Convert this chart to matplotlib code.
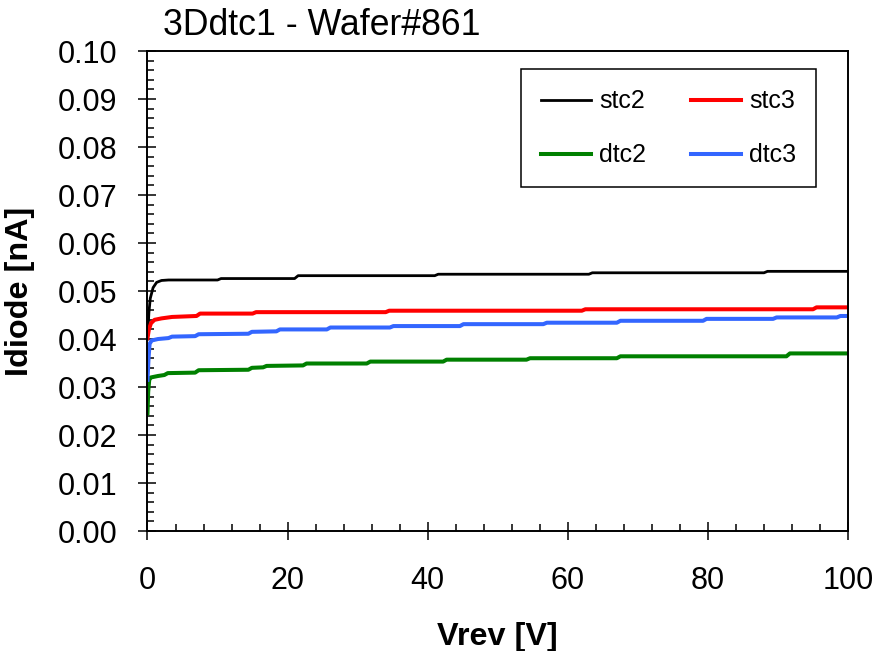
import matplotlib
matplotlib.use('Agg')
import matplotlib.pyplot as plt
from matplotlib.ticker import MultipleLocator, FormatStrFormatter


# Diode current vs reverse bias, one trace per test structure
v_stc2 = [0, 0.2, 0.4, 0.8, 1.3, 2.0, 3.0, 10.0, 10.5, 21.0, 21.5, 41.0, 41.5,
          63.0, 63.5, 88.0, 88.5, 100]
i_stc2 = [0.0400, 0.0455, 0.0485, 0.0507, 0.0518, 0.0522, 0.0523, 0.0523, 0.0526,
          0.0526, 0.0532, 0.0532, 0.0535, 0.0535, 0.0538, 0.0538, 0.0541, 0.0541]

v_stc3 = [0, 0.2, 0.5, 1.0, 2.0, 3.5, 7.0, 7.5, 15.0, 15.5, 34.0, 34.5,
          62.0, 62.5, 95.0, 95.5, 100]
i_stc3 = [0.0402, 0.0420, 0.0433, 0.0440, 0.0443, 0.0446, 0.0448, 0.0453, 0.0453,
          0.0456, 0.0456, 0.0459, 0.0459, 0.0462, 0.0462, 0.0466, 0.0466]

v_dtc2 = [0, 0.1, 0.25, 0.5, 1.5, 2.4, 2.9, 6.8, 7.3, 14.4, 14.9, 16.5, 17.0,
          22.2, 22.7, 31.3, 31.8, 42.2, 42.7, 54.1, 54.6, 67.0, 67.5, 91.2, 91.7, 100]
i_dtc2 = [0.0245, 0.0290, 0.0315, 0.0320, 0.0323, 0.0325, 0.0329, 0.0330, 0.0335,
          0.0336, 0.0340, 0.0341, 0.0344, 0.0345, 0.0349, 0.0349, 0.0353, 0.0353,
          0.0357, 0.0357, 0.0360, 0.0360, 0.0364, 0.0364, 0.0370, 0.0370]

v_dtc3 = [0, 0.15, 0.3, 0.6, 1.5, 3.0, 3.5, 6.8, 7.3, 14.4, 14.9, 18.4, 18.9,
          25.6, 26.1, 34.6, 35.1, 44.6, 45.1, 56.5, 57.0, 67.0, 67.5, 79.3, 79.8,
          89.3, 89.8, 98.4, 98.9, 100]
i_dtc3 = [0.0315, 0.0360, 0.0390, 0.0397, 0.0400, 0.0402, 0.0405, 0.0406, 0.0410,
          0.0411, 0.0415, 0.0416, 0.0420, 0.0420, 0.0424, 0.0424, 0.0427, 0.0427,
          0.0431, 0.0431, 0.0434, 0.0434, 0.0438, 0.0438, 0.0442, 0.0442, 0.0445,
          0.0445, 0.0448, 0.0448]

plt.rcParams['font.family'] = ['Liberation Sans', 'DejaVu Sans']

fig = plt.figure(figsize=(8.79, 6.51), dpi=100)
ax = fig.add_axes([0.1678, 0.1843, 0.797, 0.7373])

l1, = ax.plot(v_stc2, i_stc2, color='black', lw=2.0, label='stc2')
l2, = ax.plot(v_stc3, i_stc3, color='#ff0000', lw=2.9, label='stc3')
l3, = ax.plot(v_dtc2, i_dtc2, color='#008000', lw=2.9, label='dtc2')
l4, = ax.plot(v_dtc3, i_dtc3, color='#3366ff', lw=2.9, label='dtc3')

ax.set_xlim(0, 100)
ax.set_ylim(0, 0.10)
ax.xaxis.set_major_locator(MultipleLocator(20))
ax.xaxis.set_minor_locator(MultipleLocator(4))
ax.yaxis.set_major_locator(MultipleLocator(0.01))
ax.yaxis.set_minor_locator(MultipleLocator(0.002))
ax.yaxis.set_major_formatter(FormatStrFormatter('%.2f'))

for sp in ax.spines.values():
    sp.set_linewidth(1.4)
ax.tick_params(which='major', direction='inout', length=13, width=1.1, labelsize=22)
ax.tick_params(axis='x', which='major', pad=19)
ax.tick_params(axis='y', which='major', pad=15)
ax.tick_params(which='minor', direction='in', length=4.7, width=1.1)

ax.set_xlabel('Vrev [V]', fontsize=23.3, fontweight='bold')
ax.set_ylabel('Idiode [nA]', fontsize=23.3, fontweight='bold')
ax.xaxis.set_label_coords(0.5, -0.19)
ax.yaxis.set_label_coords(-0.16, 0.5)

fig.text(163 / 879, 1 - 35 / 651, '3Ddtc1 - Wafer#861', fontsize=25.7,
         ha='left', va='baseline')

leg = ax.legend([l1, l3, l2, l4], ['stc2', 'dtc2', 'stc3', 'dtc3'], ncol=2,
                loc='upper left', bbox_to_anchor=(0.533, 0.962), borderaxespad=0,
                fontsize=18, handlelength=2.0, handletextpad=0.32,
                columnspacing=1.8, borderpad=0.8, labelspacing=1.2,
                fancybox=False, framealpha=1)
leg.get_frame().set_edgecolor('black')
leg.get_frame().set_linewidth(1.1)

fig.savefig('out.png', dpi=100)
